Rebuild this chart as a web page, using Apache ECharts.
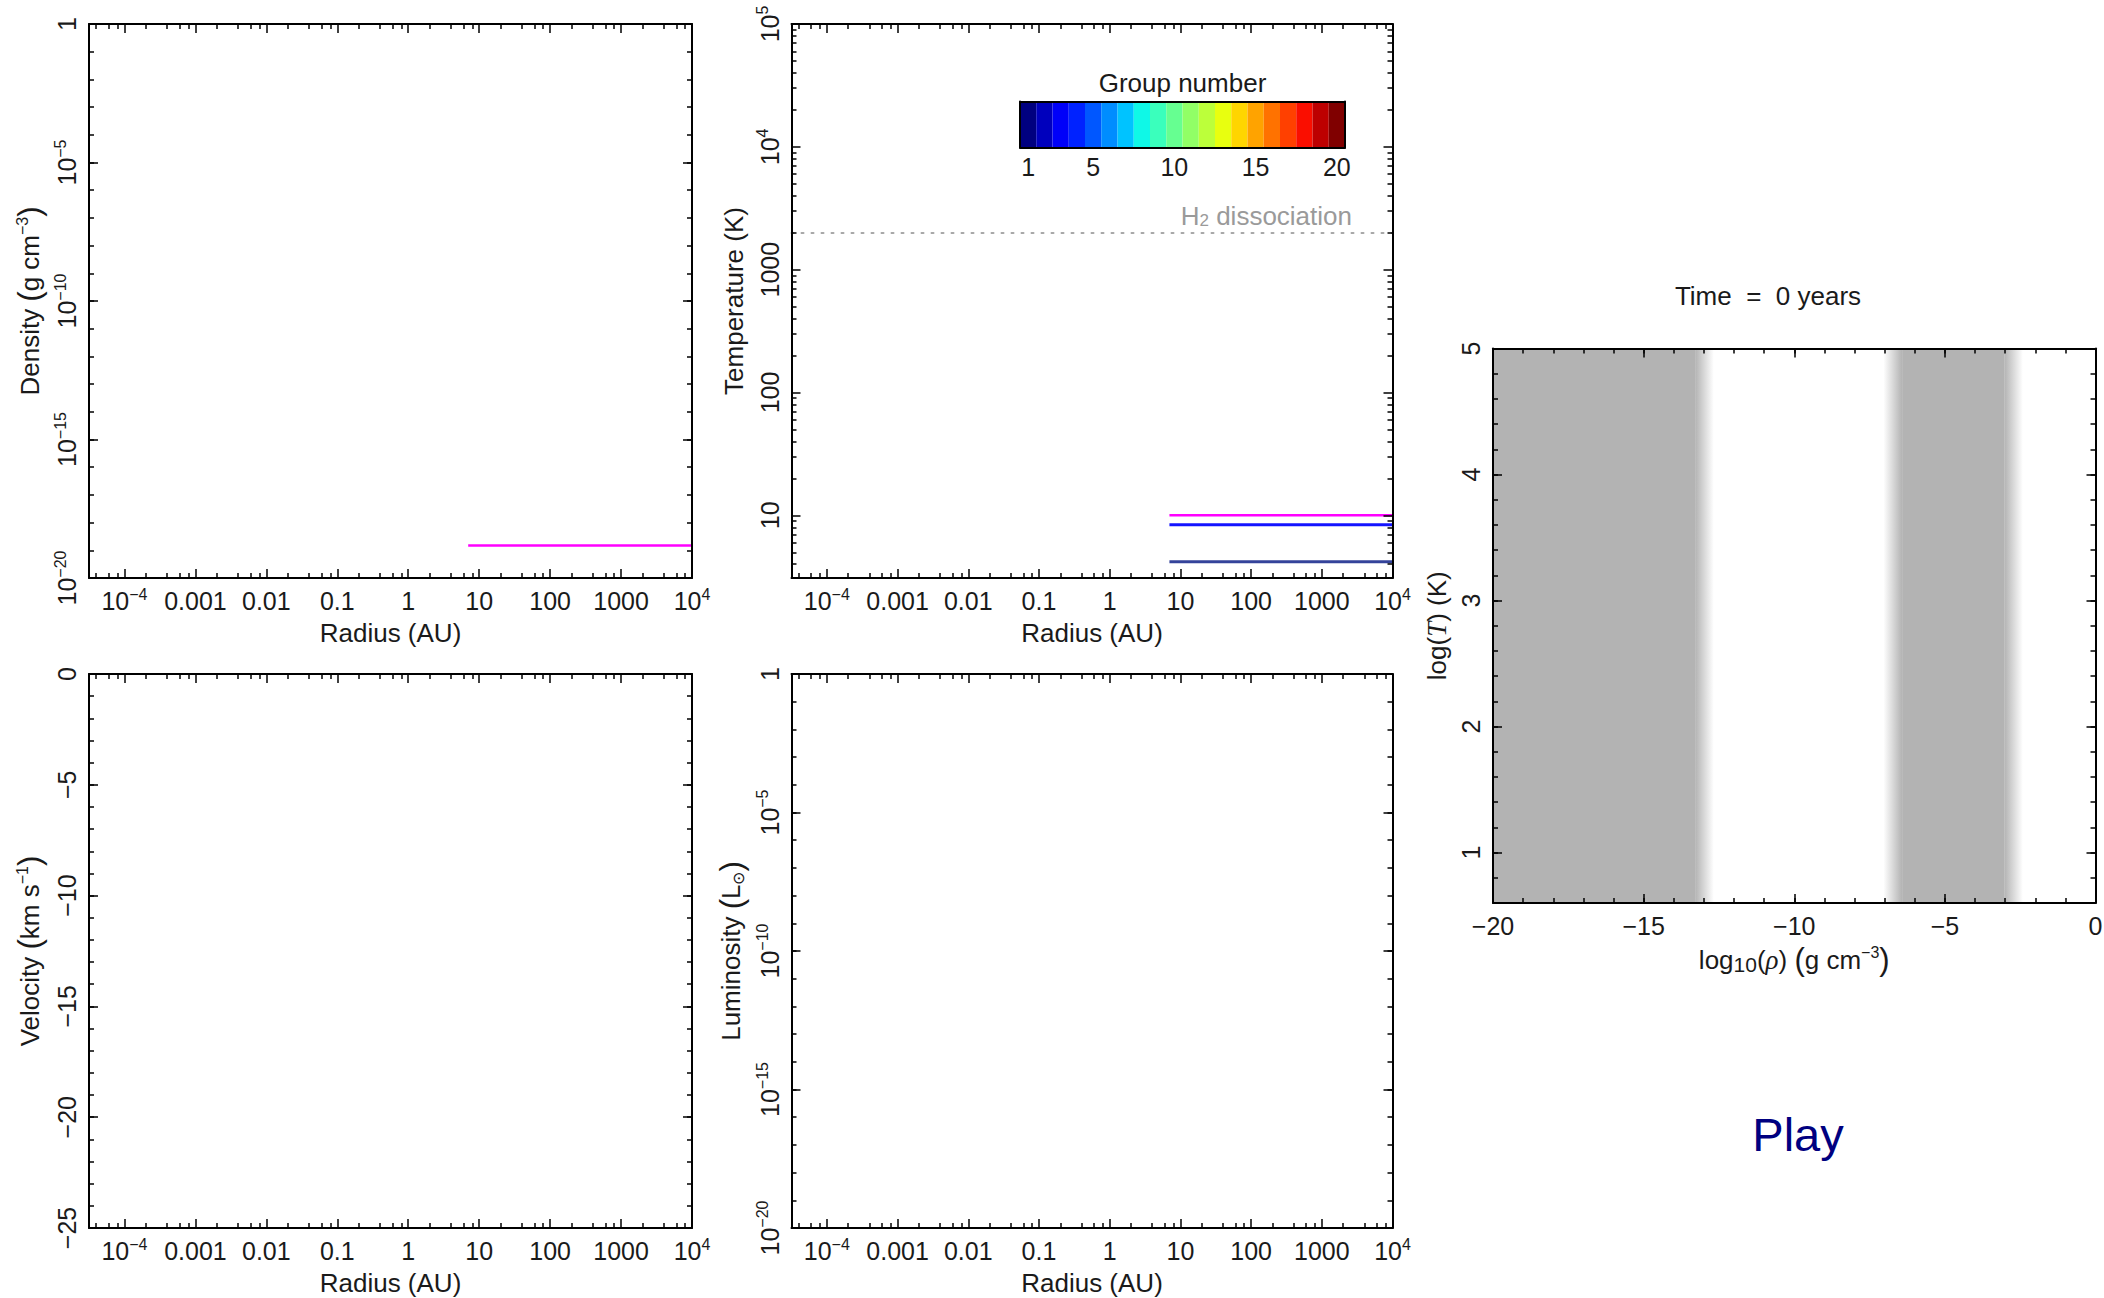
<!DOCTYPE html>
<html><head><meta charset="utf-8">
<script src="https://cdn.jsdelivr.net/npm/echarts@6/dist/echarts.min.js"></script>
<style>html,body{margin:0;padding:0;background:#fff}#c{width:2104px;height:1298px}</style>
</head><body><div id="c"></div>
<script>
// ---------------- data ----------------
const radiusRangeExp = [-4.5, 4];
const radiusTickExps = [-4, -3, -2, -1, 0, 1, 2, 3, 4];
const radiusTickLabels = ['10{sup|−4}', '0.001', '0.01', '0.1', '1', '10', '100', '1000', '10{sup|4}'];
const radiusMinorSubs = [2, 4, 6, 8];

const densityRangeExp = [-20, 0];
const densityTickExps = [-20, -15, -10, -5, 0];
const densityTickLabels = ['10{sup|−20}', '10{sup|−15}', '10{sup|−10}', '10{sup|−5}', '1'];

const tempRangeExp = [0.49, 5];
const tempTickExps = [1, 2, 3, 4, 5];
const tempTickLabels = ['10', '100', '1000', '10{sup|4}', '10{sup|5}'];
const tempMinorSubs = [2, 3, 4, 5, 6, 7, 8, 9];

const velocityRange = [-25, 0];
const velocityTicks = [-25, -20, -15, -10, -5, 0];
const velocityTickLabels = ['−25', '−20', '−15', '−10', '−5', '0'];

const lumRangeExp = [-20, 0];
const lumTickExps = [-20, -15, -10, -5, 0];
const lumTickLabels = ['10{sup|−20}', '10{sup|−15}', '10{sup|−10}', '10{sup|−5}', '1'];

const phaseXRange = [-20, 0];
const phaseXTicks = [-20, -15, -10, -5, 0];
const phaseXTickLabels = ['−20', '−15', '−10', '−5', '0'];
const phaseYRange = [0.6, 5];
const phaseYTicks = [1, 2, 3, 4, 5];
const phaseYTickLabels = ['1', '2', '3', '4', '5'];

// series values
const densityRadius = [7, 10000];
const densityValues = [1.5e-19, 1.5e-19];
const tempRadius = [7, 10000];
const tempMagenta = [10, 10];
const tempBlue = [8.4, 8.4];
const tempNavy = [4.2, 4.2];
const h2DissociationT = 2000;

const grayBands = [[-20, -12.98], [-6.73, -2.72]];
const bandBlur = 0.62;

const groupNumbers = [1,2,3,4,5,6,7,8,9,10,11,12,13,14,15,16,17,18,19,20];
const colorbarLabelGroups = [1, 5, 10, 15, 20];
const groupColors = ['#000080','#0000bd','#0000f9','#0022ff','#0057ff','#008dff','#00c3ff','#0ff8e7',
  '#3affbc','#66ff91','#91ff66','#bcff3a','#e8ff0f','#ffd500','#ffa300','#ff7200','#ff4000','#fa0e00','#bd0000','#800000'];

// ---------------- styling ----------------
const FONT = 'Liberation Sans';
const FS = 25;      // tick labels
const NFS = 26;     // axis names / titles
const TXT = '#1a1a1a';
const GRAY = '#b3b3b3';
const RICH = {
  sup: {fontSize: 16, verticalAlign: 'top', fontFamily: FONT, color: TXT, lineHeight: 15},
  sub: {fontSize: 16, verticalAlign: 'bottom', fontFamily: FONT, color: TXT, lineHeight: 15},
  p: {fontSize: 31, fontFamily: FONT, color: TXT, fontWeight: 100},
  it: {fontSize: 27, fontStyle: 'italic', fontFamily: 'Liberation Serif', color: TXT},
  s10: {fontSize: 21, verticalAlign: 'bottom', fontFamily: FONT, color: TXT}
};

function logMinor(range, subs) {
  const out = [];
  for (let n = Math.floor(range[0]) - 1; n <= Math.ceil(range[1]); n++) {
    subs.forEach(k => { const v = n + Math.log10(k); if (v > range[0] && v < range[1]) out.push(v); });
  }
  return out;
}
function stepList(a, b, s) { const o = []; for (let v = a; v <= b + 1e-9; v += s) o.push(+v.toFixed(6)); return o; }

const grids = [
  {left: 89, top: 24, width: 603, height: 554},
  {left: 791.5, top: 24, width: 601, height: 554},
  {left: 89, top: 674, width: 603, height: 554},
  {left: 791.5, top: 674, width: 601, height: 554},
  {left: 1493, top: 348.5, width: 602.5, height: 554.5},
  {left: 1020, top: 101.5, width: 325, height: 46}
].map(g => Object.assign({containLabel: false, outerBoundsMode: 'none', show: false}, g));

const xAxes = [], yAxes = [];

function baseAxis(grid, pos, range, ticks, len, showLine) {
  return {
    type: 'value', gridIndex: grid, position: pos, min: range[0], max: range[1],
    axisLine: {show: showLine, onZero: false, lineStyle: {color: '#000', width: 2}},
    axisTick: {show: true, inside: true, length: len, customValues: ticks, lineStyle: {color: '#000', width: 1.5}},
    axisLabel: {show: false},
    splitLine: {show: false}, minorTick: {show: false}, minorSplitLine: {show: false},
    axisPointer: {show: false}, silent: true, nameMoveOverlap: false, z: 6
  };
}
function labelCfg(ticks, labels, rotate, margin) {
  return {
    show: true, customValues: ticks, rotate: rotate, margin: margin, color: TXT,
    fontSize: FS, fontFamily: FONT, lineHeight: 30, rich: RICH,
    formatter: v => { const i = ticks.findIndex(t => Math.abs(t - v) < 1e-6); return i < 0 ? '' : labels[i]; }
  };
}
function nameCfg(name, gap, rotate) {
  return {name: name, nameLocation: 'middle', nameGap: gap, nameRotate: rotate,
    nameTextStyle: {fontSize: NFS, fontFamily: FONT, color: TXT, rich: RICH}};
}

function buildPanel(p) {
  const xi = xAxes.length;
  xAxes.push(Object.assign(baseAxis(p.grid, 'bottom', p.x.range, p.x.major, 9, true),
    {axisLabel: labelCfg(p.x.major, p.x.labels, 0, 8)}, nameCfg(p.x.name, p.x.nameGap, 0)));
  xAxes.push(baseAxis(p.grid, 'bottom', p.x.range, p.x.minor, 5, false));
  xAxes.push(baseAxis(p.grid, 'top', p.x.range, p.x.major, 9, true));
  xAxes.push(baseAxis(p.grid, 'top', p.x.range, p.x.minor, 5, false));
  const yi = yAxes.length;
  yAxes.push(Object.assign(baseAxis(p.grid, 'left', p.y.range, p.y.major, 9, true),
    {axisLabel: labelCfg(p.y.major, p.y.labels, 90, 7)}, nameCfg(p.y.name, p.y.nameGap, 90)));
  yAxes.push(baseAxis(p.grid, 'left', p.y.range, p.y.minor, 5, false));
  yAxes.push(baseAxis(p.grid, 'right', p.y.range, p.y.major, 9, true));
  yAxes.push(baseAxis(p.grid, 'right', p.y.range, p.y.minor, 5, false));
  return [xi, yi];
}

const radiusX = {range: radiusRangeExp, major: radiusTickExps, labels: radiusTickLabels,
  minor: logMinor(radiusRangeExp, radiusMinorSubs), name: 'Radius (AU)', nameGap: 42};

const pDens = buildPanel({grid: 0, x: radiusX,
  y: {range: densityRangeExp, major: densityTickExps, labels: densityTickLabels,
      minor: stepList(-20, 0, 1), name: 'Density {p|(}g cm{sup|−3}{p|)}', nameGap: 44}});
const pTemp = buildPanel({grid: 1, x: radiusX,
  y: {range: tempRangeExp, major: tempTickExps, labels: tempTickLabels,
      minor: logMinor(tempRangeExp, tempMinorSubs), name: 'Temperature (K)', nameGap: 45}});
const pVel = buildPanel({grid: 2, x: radiusX,
  y: {range: velocityRange, major: velocityTicks, labels: velocityTickLabels,
      minor: stepList(-25, 0, 1), name: 'Velocity {p|(}km s{sup|−1}{p|)}', nameGap: 44}});
const pLum = buildPanel({grid: 3, x: radiusX,
  y: {range: lumRangeExp, major: lumTickExps, labels: lumTickLabels,
      minor: stepList(-20, 0, 1), name: 'Luminosity {p|(}L{sub|⊙}{p|)}', nameGap: 45}});
const pPhase = buildPanel({grid: 4,
  x: {range: phaseXRange, major: phaseXTicks, labels: phaseXTickLabels, minor: stepList(-20, 0, 1),
      name: 'log{s10|10}({it|ρ}) {p|(}g cm{sup|−3}{p|)}', nameGap: 41},
  y: {range: phaseYRange, major: phaseYTicks, labels: phaseYTickLabels, minor: stepList(0.6, 5, 0.2),
      name: 'log({it|T}) (K)', nameGap: 43}});

// colorbar axes
const cbX = xAxes.length;
xAxes.push({type: 'category', gridIndex: 5, position: 'bottom', data: groupNumbers.map(String),
  axisLine: {show: true, onZero: false, lineStyle: {color: '#000', width: 2}}, axisTick: {show: false},
  axisLabel: {show: true, margin: 7, color: TXT, fontSize: FS, fontFamily: FONT,
    interval: (i, v) => colorbarLabelGroups.indexOf(+v) >= 0},
  splitLine: {show: false}, silent: true, z: 6, nameMoveOverlap: false});
xAxes.push({type: 'category', gridIndex: 5, position: 'top', data: groupNumbers.map(String),
  axisLine: {show: true, onZero: false, lineStyle: {color: '#000', width: 2}}, axisTick: {show: false},
  axisLabel: {show: false}, splitLine: {show: false}, silent: true, z: 6, nameMoveOverlap: false,
  name: 'Group number', nameLocation: 'middle', nameGap: 6,
  nameTextStyle: {fontSize: NFS, fontFamily: FONT, color: TXT}});
const cbY = yAxes.length;
['left', 'right'].forEach(pos => yAxes.push({type: 'value', gridIndex: 5, position: pos, min: 0, max: 1,
  axisLine: {show: true, onZero: false, lineStyle: {color: '#000', width: 2}}, axisTick: {show: false},
  axisLabel: {show: false}, splitLine: {show: false}, silent: true, z: 6}));

const toLog = (xs, ys) => xs.map((x, i) => [Math.log10(x), Math.log10(ys[i])]);
function lineSeries(p, data, color, width) {
  return {type: 'line', xAxisIndex: p[0], yAxisIndex: p[1], data: data, showSymbol: false, symbol: 'none',
    lineStyle: {color: color, width: width}, silent: true, animation: false, z: 3};
}

// phase-diagram bands
const bandSegs = [];
grayBands.forEach(([a, b]) => {
  const h = bandBlur / 2;
  if (a > phaseXRange[0]) { bandSegs.push([a - h, a + h, 1]); bandSegs.push([a + h, b - h, 0]); }
  else bandSegs.push([a, b - h, 0]);
  bandSegs.push([b - h, b + h, 2]);
});

const series = [
  lineSeries(pDens, toLog(densityRadius, densityValues), '#ff00ff', 2.5),
  lineSeries(pTemp, toLog(tempRadius, tempMagenta), '#ff00ff', 2.5),
  lineSeries(pTemp, toLog(tempRadius, tempBlue), '#1414ff', 3),
  lineSeries(pTemp, toLog(tempRadius, tempNavy), '#34439a', 3),
  {type: 'line', xAxisIndex: pTemp[0], yAxisIndex: pTemp[1], data: [], silent: true, animation: false,
    markLine: {silent: true, symbol: 'none', animation: false, label: {show: false},
      lineStyle: {color: '#a8a8a8', width: 2, type: [2, 8], cap: 'round'},
      data: [{yAxis: Math.log10(h2DissociationT)}]}},
  {type: 'custom', xAxisIndex: pPhase[0], yAxisIndex: pPhase[1], data: bandSegs, silent: true, animation: false, z: 1,
    encode: {x: [0, 1]},
    renderItem: (params, api) => {
      const x0 = api.value(0), x1 = api.value(1), k = api.value(2);
      const p0 = api.coord([x0, phaseYRange[1]]), p1 = api.coord([x1, phaseYRange[0]]);
      const cs = params.coordSys;
      const shape = echarts.graphic.clipRectByRect(
        {x: p0[0], y: p0[1], width: p1[0] - p0[0], height: p1[1] - p0[1]},
        {x: cs.x, y: cs.y, width: cs.width, height: cs.height});
      if (!shape) return null;
      let fill = GRAY;
      if (k === 1) fill = new echarts.graphic.LinearGradient(0, 0, 1, 0, [{offset: 0, color: 'rgba(179,179,179,0)'}, {offset: 1, color: GRAY}]);
      if (k === 2) fill = new echarts.graphic.LinearGradient(0, 0, 1, 0, [{offset: 0, color: GRAY}, {offset: 1, color: 'rgba(179,179,179,0)'}]);
      return {type: 'rect', shape: shape, style: {fill: fill}};
    }},
  {type: 'bar', xAxisIndex: cbX, yAxisIndex: cbY, barWidth: '100%', silent: true, animation: false,
    data: groupNumbers.map((g, i) => ({value: 1, itemStyle: {color: groupColors[i]}}))}
];

const chart = echarts.init(document.getElementById('c'), null, {renderer: 'svg', width: 2104, height: 1298});
chart.setOption({
  animation: false,
  backgroundColor: '#fff',
  textStyle: {fontFamily: FONT},
  grid: grids, xAxis: xAxes, yAxis: yAxes, series: series,
  graphic: [
    {type: 'text', x: 1352, y: 216, silent: true, style: {text: 'H{sub|2} dissociation', fill: '#9a9a9a',
      fontSize: NFS, fontFamily: FONT, align: 'right', verticalAlign: 'middle',
      rich: {sub: {fontSize: 17, verticalAlign: 'bottom', fill: '#9a9a9a', fontFamily: FONT}}}},
    {type: 'text', x: 1768, y: 296, silent: true, style: {text: 'Time  =  0 years', fill: TXT,
      fontSize: NFS, fontFamily: FONT, align: 'center', verticalAlign: 'middle'}},
    {type: 'text', x: 1798, y: 1134, silent: true, style: {text: 'Play', fill: '#000080',
      fontSize: 47, fontFamily: FONT, align: 'center', verticalAlign: 'middle'}}
  ]
});
</script></body></html>
